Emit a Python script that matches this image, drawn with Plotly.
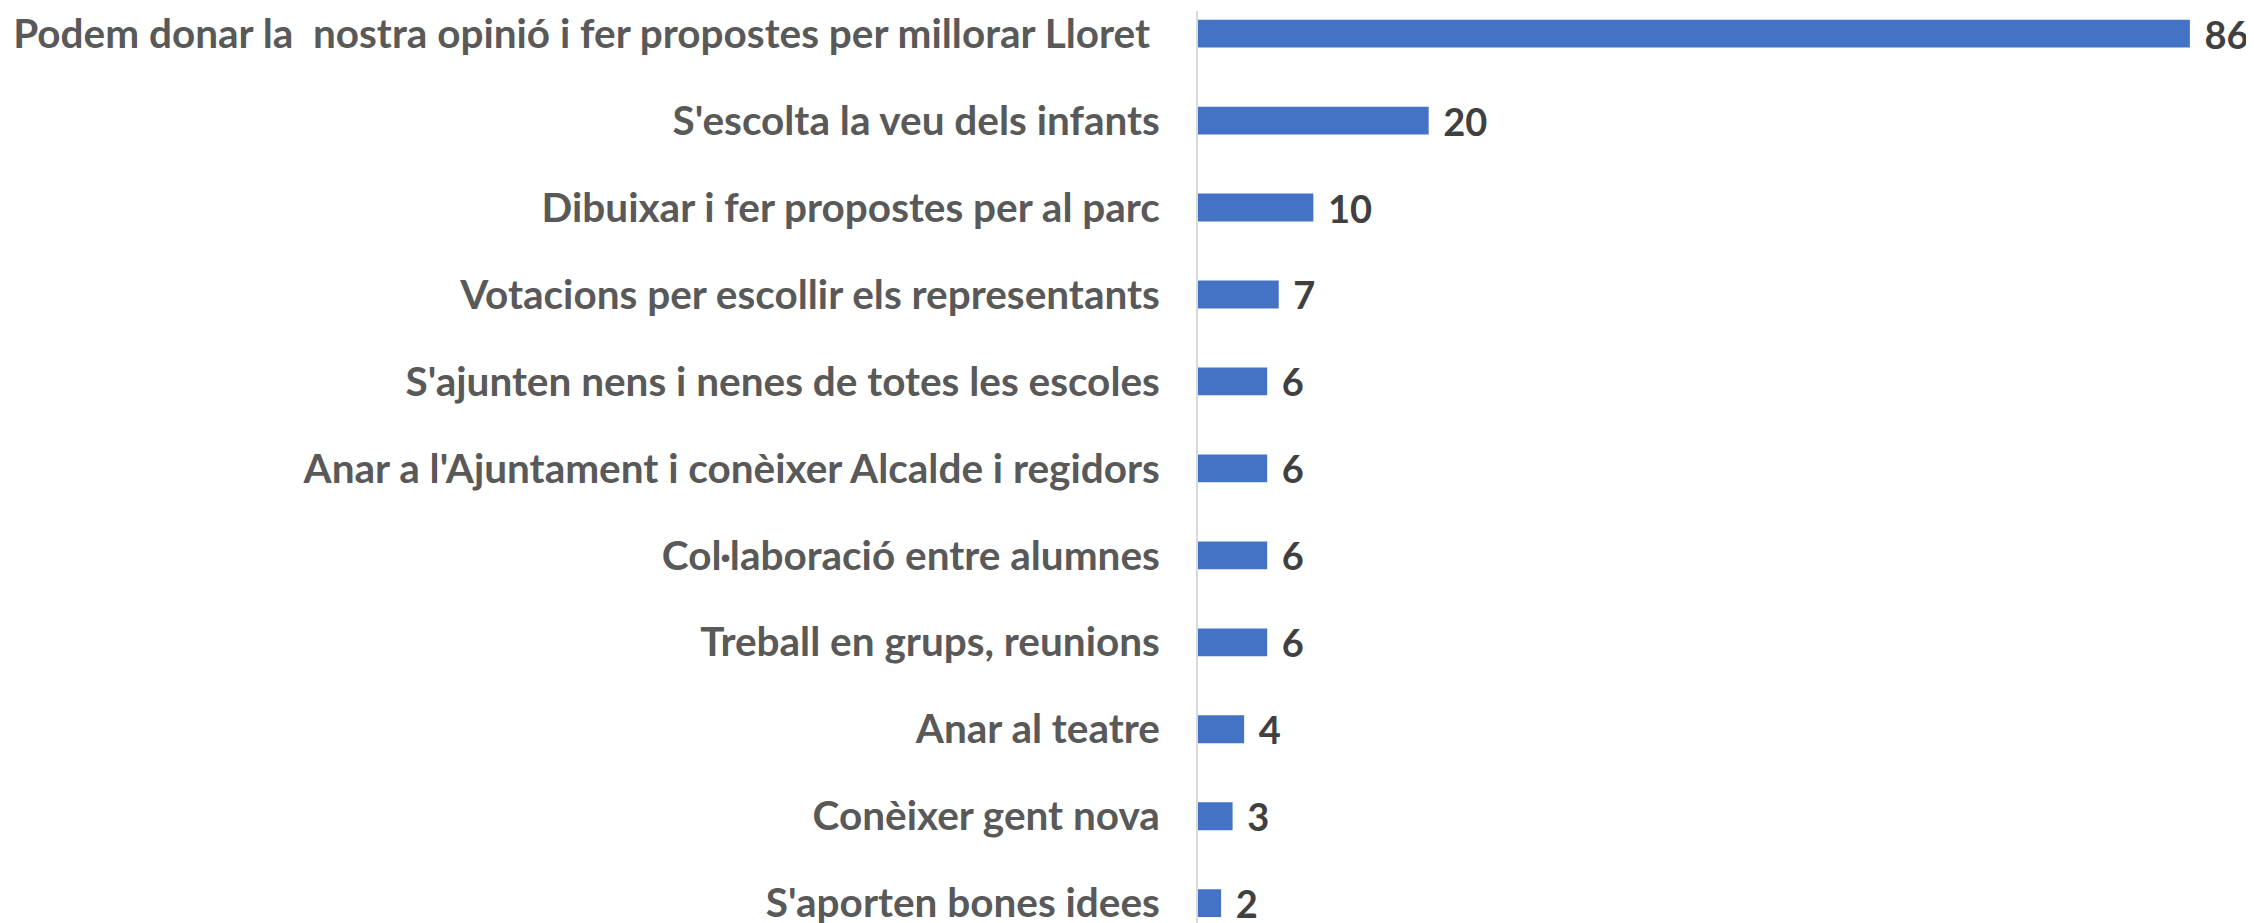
import plotly.graph_objects as go

categories = [
    "Podem donar la  nostra opinió i fer propostes per millorar Lloret ",
    "S'escolta la veu dels infants",
    "Dibuixar i fer propostes per al parc",
    "Votacions per escollir els representants",
    "S'ajunten nens i nenes de totes les escoles",
    "Anar a l'Ajuntament i conèixer Alcalde i regidors",
    "Col·laboració entre alumnes",
    "Treball en grups, reunions",
    "Anar al teatre",
    "Conèixer gent nova",
    "S'aporten bones idees",
]
values = [86, 20, 10, 7, 6, 6, 6, 6, 4, 3, 2]

FONT = "Lato"

fig = go.Figure(
    go.Bar(
        x=values,
        y=categories,
        orientation="h",
        marker=dict(color="#4472C4", line=dict(width=0)),
        text=values,
        texttemplate=" \u200a%{x}",
        textposition="outside",
        textfont=dict(family=FONT, size=38, color="#404040", weight="bold"),
        constraintext="none",
        cliponaxis=False,
        hoverinfo="skip",
    )
)

fig.update_layout(
    width=2246,
    height=923,
    autosize=False,
    margin=dict(l=1190, r=18, t=0, b=0, pad=0),
    paper_bgcolor="white",
    plot_bgcolor="white",
    bargap=0.68,
    showlegend=False,
    font=dict(family=FONT),
)

fig.update_xaxes(
    range=[0, 90],
    visible=False,
    showgrid=False,
    zeroline=False,
)

fig.update_yaxes(
    type="category",
    categoryorder="array",
    categoryarray=categories,
    range=[10.32, -0.26],
    showgrid=False,
    zeroline=False,
    showline=True,
    linecolor="#d9d9d9",
    linewidth=2,
    ticks="",
    ticklabelstandoff=28,
    tickfont=dict(family=FONT, size=40.5, color="#595959", weight="bold"),
)

fig.write_html("out.html")
